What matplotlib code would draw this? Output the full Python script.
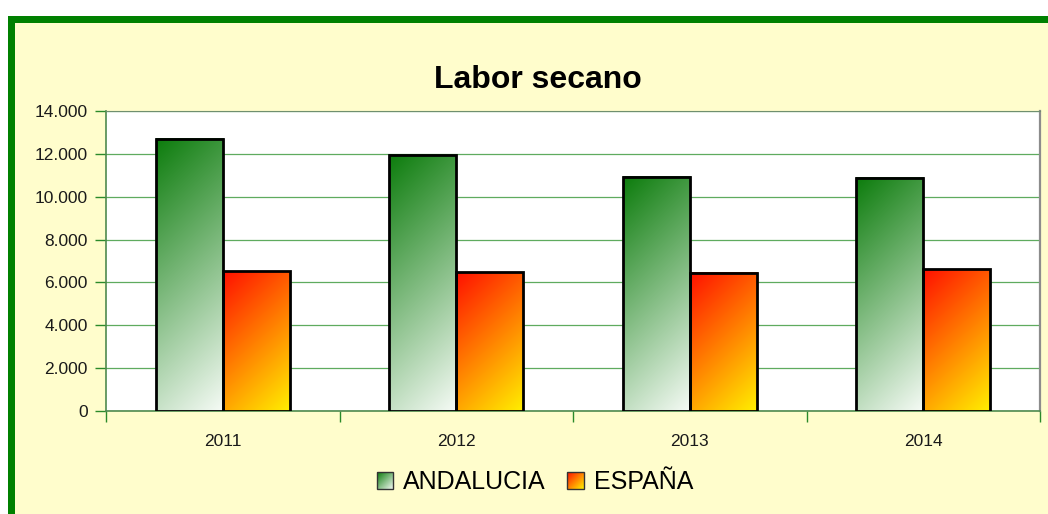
import numpy as np
import matplotlib
matplotlib.use("Agg")
import matplotlib.pyplot as plt
from matplotlib.patches import Rectangle
from matplotlib.legend_handler import HandlerBase
from matplotlib.image import BboxImage
from matplotlib.transforms import Bbox, TransformedBbox
from matplotlib.ticker import FuncFormatter, FixedLocator

plt.rcParams['font.family'] = ['Liberation Sans', 'DejaVu Sans']

# ---- data ----
years = ['2011', '2012', '2013', '2014']
andalucia = [12700, 11950, 10930, 10880]
espana = [6520, 6480, 6440, 6620]
series_names = ['ANDALUCIA', 'ESPAÑA']
title = 'Labor secano'

# ---- styles ----
W, H, DPI = 1048, 514, 100
green_c0, green_c1 = (12/255, 124/255, 12/255), (246/255, 251/255, 246/255)
orange_c0, orange_c1 = (1.0, 16/255, 0.0), (1.0, 240/255, 0.0)
bg = '#FFFDCC'
border_green = '#008000'

fig = plt.figure(figsize=(W/DPI, H/DPI), dpi=DPI, facecolor='white')

# outer frame (left/top visible, right/bottom run off the canvas)
frame = Rectangle((10.5/W, -20/H), (W + 40)/W, (H - 18.5 + 20)/H,
                  transform=fig.transFigure, facecolor=bg,
                  edgecolor=border_green, linewidth=7*0.72, zorder=-5)
fig.patches.append(frame)

ax_left, ax_right, ax_top, ax_bottom = 106, 1040, 111, 411
ax = fig.add_axes([ax_left/W, (H-ax_bottom)/H, (ax_right-ax_left)/W, (ax_bottom-ax_top)/H])
ax.set_zorder(1)
ax.set_facecolor('white')
ax.set_xlim(-0.5, len(years) - 0.5)
ax.set_ylim(0, 14000)

# grid
ax.set_yticks(np.arange(0, 14001, 2000))
ax.yaxis.set_major_formatter(FuncFormatter(lambda v, p: f"{int(v):,}".replace(',', '.')))
ax.grid(axis='y', color='#2a8f2a', linewidth=0.9, alpha=0.75)
ax.set_axisbelow(True)

# x ticks: boundaries with marks, labels at centers
ax.xaxis.set_major_locator(FixedLocator(np.arange(-0.5, len(years), 1.0)))
ax.xaxis.set_major_formatter(FuncFormatter(lambda v, p: ''))
ax.xaxis.set_minor_locator(FixedLocator(np.arange(len(years))))
ax.set_xticklabels(years, minor=True)
ax.tick_params(axis='x', which='major', direction='out', length=8, width=1, color='#2a8a2a')
ax.tick_params(axis='x', which='minor', length=0, pad=16.5, labelsize=12.5, labelcolor='#1a1a1a')
ax.tick_params(axis='y', direction='out', length=8, width=1, color='#2a8a2a', pad=5,
               labelsize=12.5, labelcolor='#1a1a1a')

for s in ['left', 'bottom']:
    ax.spines[s].set_color('#4f8a4f')
    ax.spines[s].set_linewidth(1.2)
ax.spines['top'].set_color('#6f8f6f')
ax.spines['right'].set_color('#8c8c8c')
ax.spines['right'].set_linewidth(1.6)

bar_w = 0.287
x = np.arange(len(years))


def grad_array(c0, c1, w_px, h_px, n=128):
    u = np.linspace(0, 1, n)[None, :]
    v = np.linspace(0, 1, n)[:, None]  # row 0 = bottom (origin lower)
    t = (u * w_px + (1 - v) * h_px) / (w_px + h_px)
    c0 = np.array(c0)[None, None, :]
    c1 = np.array(c1)[None, None, :]
    return c0 + (c1 - c0) * t[:, :, None]


px_per_x = (ax_right - ax_left) / len(years)
px_per_y = (ax_bottom - ax_top) / 14000

for vals, off, (c0, c1) in [(andalucia, -bar_w/2, (green_c0, green_c1)),
                             (espana, bar_w/2, (orange_c0, orange_c1))]:
    bars = ax.bar(x + off, vals, width=bar_w, facecolor='none',
                  edgecolor='black', linewidth=2.0, zorder=4)
    for b, val in zip(bars, vals):
        x0 = b.get_x()
        x1 = x0 + b.get_width()
        arr = grad_array(c0, c1, bar_w * px_per_x, val * px_per_y)
        ax.imshow(arr, extent=[x0, x1, 0, val], origin='lower', aspect='auto',
                  interpolation='bilinear', zorder=3)
ax.set_xlim(-0.5, len(years) - 0.5)
ax.set_ylim(0, 14000)


class GradHandler(HandlerBase):
    def __init__(self, c0, c1):
        super().__init__()
        self.c0, self.c1 = c0, c1

    def create_artists(self, legend, orig_handle, xdescent, ydescent, width, height,
                       fontsize, trans):
        bb = Bbox.from_bounds(-xdescent, -ydescent, width, height)
        img = BboxImage(TransformedBbox(bb, trans), interpolation='bilinear', origin='lower')
        img.set_data(grad_array(self.c0, self.c1, 1, 1, 32))
        rect = Rectangle((-xdescent, -ydescent), width, height, transform=trans,
                         facecolor='none', edgecolor='#333333', linewidth=1.0)
        return [img, rect]


h1 = Rectangle((0, 0), 1, 1)
h2 = Rectangle((0, 1), 1, 1)
fig.legend([h1, h2], series_names, loc='center',
           bbox_to_anchor=(535/W, (H-482)/H), ncol=2, frameon=False,
           fontsize=18, handlelength=0.65, handleheight=0.65, handletextpad=0.4,
           columnspacing=0.85,
           handler_map={h1: GradHandler(green_c0, green_c1),
                        h2: GradHandler(orange_c0, orange_c1)})

fig.text(537.5/W, (H-88)/H, title, ha='center', va='baseline',
         fontsize=23, fontweight='bold', color='black')

fig.savefig('out.png', dpi=DPI, facecolor=fig.get_facecolor())
